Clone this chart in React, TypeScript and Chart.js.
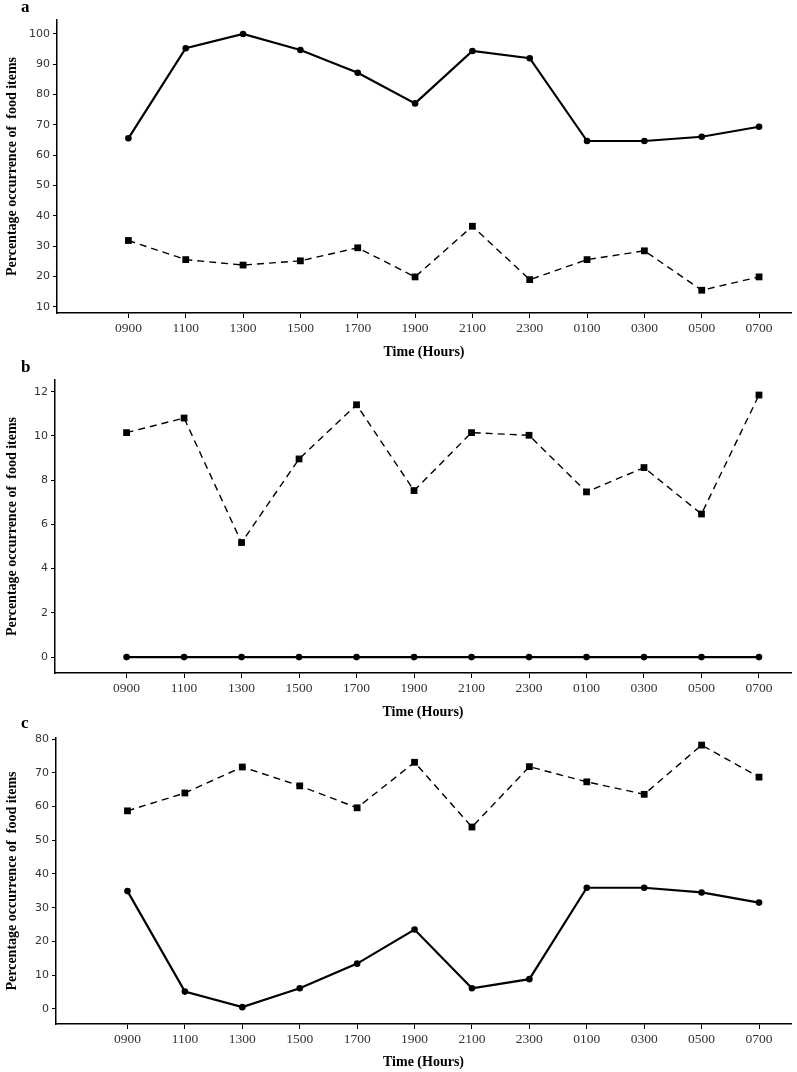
import React, { useEffect, useRef } from "react";
import { Chart, registerables } from "chart.js";

Chart.register(...registerables);

// ---- data ----
const hours = ["0900", "1100", "1300", "1500", "1700", "1900", "2100", "2300", "0100", "0300", "0500", "0700"];

const aSolid = [65.6, 95.3, 100, 94.7, 87.2, 77.1, 94.4, 92.0, 64.7, 64.7, 66.1, 69.4];
const aDashed = [31.9, 25.6, 23.8, 25.2, 29.5, 19.9, 36.6, 19.0, 25.6, 28.5, 15.5, 19.9];
const aYTicks = [10, 20, 30, 40, 50, 60, 70, 80, 90, 100];

const bSolid = [0, 0, 0, 0, 0, 0, 0, 0, 0, 0, 0, 0];
const bDashed = [10.15, 10.81, 5.18, 8.96, 11.41, 7.53, 10.15, 10.03, 7.47, 8.57, 6.47, 11.85];
const bYTicks = [0, 2, 4, 6, 8, 10, 12];

const cSolid = [34.9, 5.1, 0.5, 6.1, 13.4, 23.5, 6.1, 8.8, 35.9, 35.9, 34.5, 31.5];
const cDashed = [58.7, 64.0, 71.7, 66.1, 59.6, 73.1, 53.9, 71.8, 67.3, 63.6, 78.2, 68.7];
const cYTicks = [0, 10, 20, 30, 40, 50, 60, 70, 80];

const yTitle = "Percentage occurrence of  food items";
const xTitle = "Time (Hours)";

const W = 797;

type PanelProps = {
  solid: number[];
  dashed: number[];
  yTicks: number[];
  yMin: number;
  yMax: number;
  top: number;
  height: number;
  padTop: number;
  axisLeft: number;
  xAxisH: number;
};

function Panel(p: PanelProps) {
  const ref = useRef<HTMLCanvasElement | null>(null);
  useEffect(() => {
    if (!ref.current) return;
    const serifBold = { family: "'Liberation Serif', 'Times New Roman', serif", size: 14, weight: "bold" as const };
    const chart = new Chart(ref.current, {
      type: "line",
      data: {
        datasets: [
          {
            data: p.solid.map((v, i) => ({ x: i, y: v })),
            borderColor: "#000",
            backgroundColor: "#000",
            borderWidth: 2.2,
            pointStyle: "circle",
            pointRadius: 3.3,
            pointBackgroundColor: "#000",
            pointBorderColor: "#000",
            pointBorderWidth: 0,
            tension: 0,
          },
          {
            data: p.dashed.map((v, i) => ({ x: i, y: v })),
            borderColor: "#000",
            backgroundColor: "#000",
            borderWidth: 1.4,
            borderDash: [7, 5],
            pointStyle: "rect",
            pointRadius: 4.8,
            pointBackgroundColor: "#000",
            pointBorderColor: "#000",
            pointBorderWidth: 0,
            tension: 0,
          },
        ],
      },
      options: {
        animation: false,
        responsive: false,
        maintainAspectRatio: false,
        layout: { padding: { top: p.padTop, left: 0, right: W - 791, bottom: 0 } },
        plugins: { legend: { display: false }, tooltip: { enabled: false } },
        scales: {
          x: {
            type: "linear",
            min: -1.245,
            max: 11.557,
            afterBuildTicks: (s: any) => {
              s.ticks = hours.map((_, i) => ({ value: i }));
            },
            afterFit: (s: any) => {
              s.height = p.xAxisH;
            },
            ticks: {
              autoSkip: false,
              maxRotation: 0,
              padding: 2.5,
              color: "#333",
              font: { family: "'Liberation Serif', 'Times New Roman', serif", size: 13.5 },
              callback: (v: any) => hours[Math.round(Number(v))] ?? "",
            },
            grid: { display: true, drawOnChartArea: false, drawTicks: true, tickLength: 5, color: "#000", lineWidth: 1 },
            border: { display: true, color: "#000", width: 1.5 },
            title: { display: true, text: xTitle, color: "#000", font: serifBold, padding: { top: 0, bottom: 0 } },
          },
          y: {
            type: "linear",
            min: p.yMin,
            max: p.yMax,
            afterBuildTicks: (s: any) => {
              s.ticks = p.yTicks.map((v) => ({ value: v }));
            },
            afterFit: (s: any) => {
              s.width = p.axisLeft;
            },
            ticks: {
              padding: 3,
              color: "#333",
              font: { family: "'DejaVu Sans', sans-serif", size: 11 },
            },
            grid: { display: true, drawOnChartArea: false, drawTicks: true, tickLength: 4, color: "#000", lineWidth: 1 },
            border: { display: true, color: "#000", width: 1.5 },
            title: { display: true, text: yTitle, color: "#000", font: serifBold, padding: { top: 3.5, bottom: 0 } },
          },
        },
      },
    } as any);
    return () => chart.destroy();
  }, []);
  return (
    <canvas
      ref={ref}
      width={W}
      height={p.height}
      style={{ position: "absolute", left: 0, top: p.top, width: W, height: p.height }}
    />
  );
}

const labelStyle: React.CSSProperties = {
  position: "absolute",
  left: 21,
  fontFamily: "'Liberation Serif', 'Times New Roman', serif",
  fontWeight: "bold",
  fontSize: 17,
  lineHeight: "17px",
  color: "#000",
};

export default function App() {
  return (
    <div style={{ position: "absolute", left: 0, top: 0, width: W, height: 1072, background: "#fff" }}>
      <Panel solid={aSolid} dashed={aDashed} yTicks={aYTicks} yMin={8} yMax={104.6} top={0} height={361} padTop={20} axisLeft={57} xAxisH={48} />
      <Panel solid={bSolid} dashed={bDashed} yTicks={bYTicks} yMin={-0.72} yMax={12.53} top={361} height={360} padTop={19} axisLeft={55} xAxisH={48} />
      <Panel solid={cSolid} dashed={cDashed} yTicks={cYTicks} yMin={-4.5} yMax={80.3} top={721} height={350} padTop={17} axisLeft={56} xAxisH={47} />
      <div style={{ ...labelStyle, top: -2 }}>a</div>
      <div style={{ ...labelStyle, top: 358 }}>b</div>
      <div style={{ ...labelStyle, top: 714 }}>c</div>
    </div>
  );
}
